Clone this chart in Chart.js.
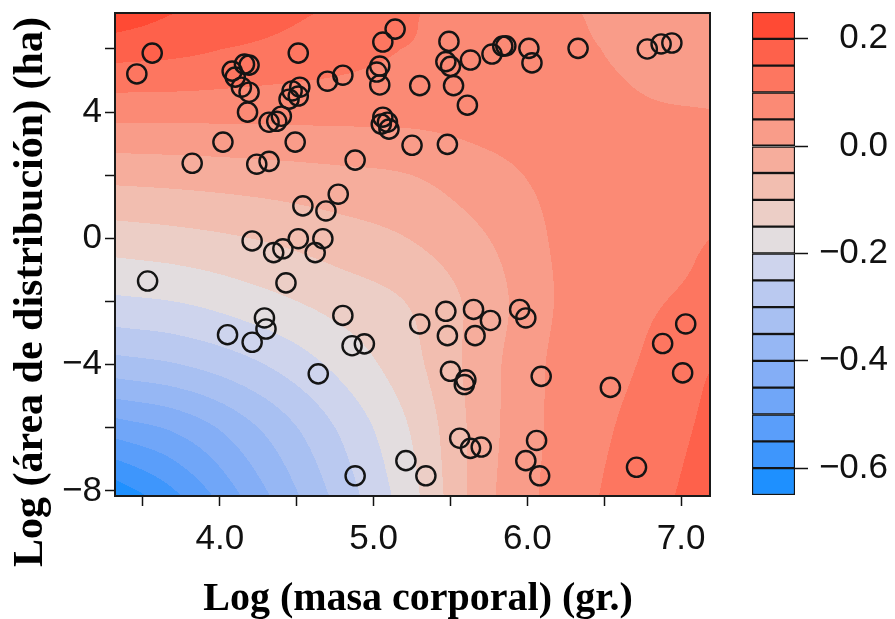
<!DOCTYPE html>
<html>
<head>
<meta charset="utf-8">
<script src="https://cdn.jsdelivr.net/npm/chart.js@4.4.1/dist/chart.umd.min.js"></script>
<style>
  html, body { margin: 0; padding: 0; background: #ffffff; }
  #wrap { position: relative; width: 895px; height: 619px; }
  #main { position: absolute; left: 0; top: 0; }
  #cbar { position: absolute; left: 720px; top: 0; }
</style>
</head>
<body>
<div id="wrap">
  <canvas id="main" width="895" height="619"></canvas>
  <canvas id="cbar" width="175" height="619"></canvas>
</div>
<script>
// ---------- data ----------
// scatter points: Log body mass (x) and Log range area (y)
const massX = [
  3.46, 3.56, 4.08, 4.10, 4.16, 4.19, 4.14, 4.19, 4.18, 4.32,
  4.37, 4.40, 4.02, 3.82, 4.24, 4.32, 4.49, 4.51, 4.47, 4.52,
  4.51, 4.45, 4.70, 4.80, 5.02, 5.04, 5.04, 5.06, 5.14, 5.06,
  5.09, 5.05, 5.10, 4.88, 5.25, 5.48, 5.49, 5.47, 5.50, 5.63,
  5.77, 5.84, 5.86, 6.01, 6.03, 6.33, 6.78, 6.87, 6.94, 5.30,
  5.52, 5.61, 4.77, 4.54, 4.69, 4.21, 4.35, 4.41, 4.51, 4.67,
  4.62, 3.53, 4.43, 4.80, 4.29, 4.30, 4.05, 4.21, 4.86, 4.94,
  4.64, 5.21, 4.88, 5.34, 5.30, 5.47, 5.48, 5.65, 5.76, 5.66,
  5.95, 5.99, 5.50, 5.60, 5.59, 6.09, 6.54, 7.03, 6.88, 7.01,
  5.56, 5.63, 5.70, 6.06, 5.99, 6.08, 6.71
];
const areaY = [
  5.21, 5.87, 5.30, 5.11, 5.52, 5.49, 4.79, 4.63, 4.00, 3.68,
  3.71, 3.87, 3.05, 2.38, 2.35, 2.44, 3.05, 5.87, 4.67, 4.79,
  4.51, 4.41, 4.98, 5.17, 5.27, 5.46, 4.86, 6.22, 6.63, 3.84,
  3.68, 3.62, 3.46, 2.48, 2.95, 2.98, 6.24, 5.60, 5.45, 5.65,
  5.84, 6.09, 6.10, 6.02, 5.56, 6.02, 6.00, 6.16, 6.19, 4.84,
  4.84, 4.22, 1.40, 1.03, 0.87, -0.08, -0.45, -0.33, -0.01, -0.01,
  -0.45, -1.35, -1.41, -2.44, -2.52, -2.87, -3.05, -3.29, -3.40, -3.34,
  -4.29, -7.04, -7.52, -7.52, -2.71, -2.31, -3.08, -2.25, -2.60, -3.08,
  -2.25, -2.52, -4.21, -4.48, -4.63, -4.37, -4.72, -2.71, -3.33, -4.26,
  -6.33, -6.65, -6.61, -6.40, -7.04, -7.52, -7.25
];

// fitted surface values (rows bottom -> top)
const gridX = [3.32, 3.75, 4.25, 4.75, 5.25, 5.75, 6.25, 6.75, 7.19];
const gridY = [-8.16, -6, -4, -2, 0, 2, 4, 6, 7.14];
const surfaceZ = [
  [-0.640, -0.550, -0.420, -0.290, -0.165, -0.010, 0.075, 0.127, 0.175],
  [-0.475, -0.435, -0.350, -0.250, -0.145, -0.015, 0.070, 0.115, 0.162],
  [-0.320, -0.300, -0.255, -0.190, -0.115, -0.015, 0.068, 0.103, 0.148],
  [-0.210, -0.198, -0.168, -0.132, -0.095, -0.022, 0.060, 0.093, 0.110],
  [-0.125, -0.115, -0.098, -0.074, -0.048,  0.000, 0.062, 0.085, 0.100],
  [-0.035, -0.030, -0.022, -0.012,  0.000,  0.035, 0.065, 0.075, 0.080],
  [ 0.067,  0.067,  0.066,  0.066,  0.065,  0.070, 0.070, 0.055, 0.051],
  [ 0.170,  0.160,  0.140,  0.120,  0.097,  0.080, 0.060, 0.040, 0.035],
  [ 0.230,  0.197,  0.170,  0.142,  0.103,  0.085, 0.055, 0.035, 0.030]
];

// contour levels and their colours (bottom -> top)
const levels = [-0.65, -0.60, -0.55, -0.50, -0.45, -0.40, -0.35, -0.30, -0.25, -0.20,
                -0.15, -0.10, -0.05, 0.00, 0.05, 0.10, 0.15, 0.20, 0.25];
const levelColors = [
  'rgb(30,144,255)', 'rgb(62,150,252)', 'rgb(90,158,250)', 'rgb(112,166,248)',
  'rgb(132,174,246)', 'rgb(150,183,244)', 'rgb(168,192,242)', 'rgb(186,201,240)',
  'rgb(206,212,237)', 'rgb(227,221,223)', 'rgb(236,206,198)', 'rgb(242,190,176)',
  'rgb(246,173,156)', 'rgb(249,156,137)', 'rgb(251,138,117)', 'rgb(253,118,96)',
  'rgb(254,97,75)', 'rgb(255,74,52)'
];

const xTickValues = [3.5, 4.0, 4.5, 5.0, 5.5, 6.0, 6.5, 7.0];
const xTickLabels = ['', '4.0', '', '5.0', '', '6.0', '', '7.0'];
const yTickValues = [-8, -6, -4, -2, 0, 2, 4, 6];
const yTickLabels = ['\u22128', '', '\u22124', '', '0', '', '4', ''];
const cbTickValues = [-0.6, -0.4, -0.2, 0.0, 0.2];
const cbTickLabels = ['\u22120.6', '\u22120.4', '\u22120.2', '0.0', '0.2'];

const xTitle = 'Log (masa corporal) (gr.)';
const yTitle = 'Log (\u00e1rea de distribuci\u00f3n) (ha)';

// ---------- surface interpolation (rendering only) ----------
function fracIndex(arr, v) {
  const n = arr.length - 1;
  if (v <= arr[0]) return (v - arr[0]) / (arr[1] - arr[0]);
  for (let i = 0; i < n; i++) {
    if (v <= arr[i + 1]) return i + (v - arr[i]) / (arr[i + 1] - arr[i]);
  }
  return n + (v - arr[n]) / (arr[n] - arr[n - 1]);
}
function nodeVal(j, i) {
  const nr = surfaceZ.length, nc = surfaceZ[0].length;
  if (i < 0) return 2 * nodeVal(j, 0) - nodeVal(j, 1);
  if (i >= nc) return 2 * nodeVal(j, nc - 1) - nodeVal(j, nc - 2);
  if (j < 0) return 2 * nodeVal(0, i) - nodeVal(1, i);
  if (j >= nr) return 2 * nodeVal(nr - 1, i) - nodeVal(nr - 2, i);
  return surfaceZ[j][i];
}
function catmull(p0, p1, p2, p3, t) {
  return 0.5 * (2 * p1 + (-p0 + p2) * t + (2 * p0 - 5 * p1 + 4 * p2 - p3) * t * t +
    (-p0 + 3 * p1 - 3 * p2 + p3) * t * t * t);
}
function surface(x, y) {
  const nr = surfaceZ.length, nc = surfaceZ[0].length;
  const fx = Math.max(0, Math.min(nc - 1, fracIndex(gridX, x)));
  const fy = Math.max(0, Math.min(nr - 1, fracIndex(gridY, y)));
  const i = Math.min(Math.floor(fx), nc - 2), j = Math.min(Math.floor(fy), nr - 2);
  const tx = fx - i, ty = fy - j;
  const r = [];
  for (let dj = -1; dj <= 2; dj++) {
    r.push(catmull(nodeVal(j + dj, i - 1), nodeVal(j + dj, i), nodeVal(j + dj, i + 1), nodeVal(j + dj, i + 2), tx));
  }
  return catmull(r[0], r[1], r[2], r[3], ty);
}
function levelIndex(z) {
  const step = levels[1] - levels[0];
  let k = Math.floor((z - levels[0]) / step + 1e-9);
  return Math.max(0, Math.min(levelColors.length - 1, k));
}

// ---------- plugins ----------
const fieldPlugin = {
  id: 'field',
  beforeDatasetsDraw(chart) {
    const { ctx, chartArea: a, scales } = chart;
    const xs = scales.x, ys = scales.y;
    const top = Math.round(a.top), bottom = Math.round(a.bottom);
    const left = Math.round(a.left), right = Math.round(a.right);
    const yVals = [];
    for (let py = top; py < bottom; py++) yVals.push(ys.getValueForPixel(py + 0.5));
    ctx.save();
    for (let px = left; px < right; px++) {
      const xv = xs.getValueForPixel(px + 0.5);
      let runStart = top, runLev = -1;
      for (let jj = 0; jj < yVals.length; jj++) {
        const lev = levelIndex(surface(xv, yVals[jj]));
        if (lev !== runLev) {
          if (runLev >= 0) {
            ctx.fillStyle = levelColors[runLev];
            ctx.fillRect(px, runStart, 1, top + jj - runStart);
          }
          runLev = lev; runStart = top + jj;
        }
      }
      ctx.fillStyle = levelColors[runLev];
      ctx.fillRect(px, runStart, 1, bottom - runStart);
    }
    ctx.restore();
  },
  afterDatasetsDraw(chart) {
    const { ctx, chartArea: a } = chart;
    ctx.save();
    ctx.strokeStyle = '#1a1a1a';
    ctx.lineWidth = 2;
    ctx.strokeRect(a.left, a.top, a.right - a.left, a.bottom - a.top);
    ctx.restore();
  },
  afterDraw(chart) {
    const { ctx } = chart;
    ctx.save();
    ctx.fillStyle = '#000';
    ctx.textAlign = 'center';
    ctx.textBaseline = 'alphabetic';
    ctx.font = 'bold 40px "Liberation Serif", "Times New Roman", serif';
    ctx.fillText(xTitle, 418, 610);
    ctx.font = 'bold 42px "Liberation Serif", "Times New Roman", serif';
    ctx.translate(42, 292);
    ctx.rotate(-Math.PI / 2);
    ctx.fillText(yTitle, 0, 0);
    ctx.restore();
  }
};

const tickFont = { family: '"Liberation Sans", Arial, sans-serif', size: 35 };

new Chart(document.getElementById('main'), {
  type: 'scatter',
  data: {
    datasets: [{
      data: massX.map((x, i) => ({ x: x, y: areaY[i] })),
      pointRadius: 9.6,
      pointHoverRadius: 9.6,
      pointBorderWidth: 2.4,
      pointBorderColor: '#141414',
      pointBackgroundColor: 'rgba(0,0,0,0)',
      showLine: false
    }]
  },
  options: {
    responsive: false,
    animation: false,
    events: [],
    devicePixelRatio: 1,
    layout: { padding: { left: 0, top: 13, right: 185, bottom: 0 } },
    plugins: { legend: { display: false }, tooltip: { enabled: false } },
    scales: {
      x: {
        type: 'linear', min: 3.318, max: 7.188,
        afterBuildTicks(s) { s.ticks = xTickValues.map(v => ({ value: v })); },
        afterFit(s) { s.height = 123; s.paddingLeft = 0; s.paddingRight = 0; },
        ticks: {
          autoSkip: false, maxRotation: 0, color: '#111', font: tickFont, padding: 12,
          callback(v) { const k = xTickValues.indexOf(v); return k >= 0 ? xTickLabels[k] : ''; }
        },
        grid: { drawOnChartArea: false, drawTicks: true, tickLength: 10, tickWidth: 1.5, tickColor: '#111' },
        border: { display: true, color: '#1a1a1a', width: 2 }
      },
      y: {
        type: 'linear', min: -8.16, max: 7.14,
        afterBuildTicks(s) { s.ticks = yTickValues.map(v => ({ value: v })); },
        afterFit(s) { s.width = 115; s.paddingTop = 0; s.paddingBottom = 0; },
        ticks: {
          autoSkip: false, color: '#111', font: tickFont, padding: 3,
          callback(v) { const k = yTickValues.indexOf(v); return k >= 0 ? yTickLabels[k] : ''; }
        },
        grid: { drawOnChartArea: false, drawTicks: true, tickLength: 10, tickWidth: 1.5, tickColor: '#111' },
        border: { display: true, color: '#1a1a1a', width: 2 }
      }
    }
  },
  plugins: [fieldPlugin]
});

// ---------- colour key ----------
new Chart(document.getElementById('cbar'), {
  type: 'bar',
  data: {
    labels: [''],
    datasets: levelColors.map((c, k) => ({
      data: [[levels[k], levels[k + 1]]],
      backgroundColor: c,
      borderColor: '#141414',
      borderWidth: 1.5,
      borderSkipped: false,
      barPercentage: 1,
      categoryPercentage: 1
    }))
  },
  options: {
    responsive: false,
    animation: false,
    events: [],
    devicePixelRatio: 1,
    layout: { padding: { left: 32, top: 12, right: 7, bottom: 124 } },
    plugins: { legend: { display: false }, tooltip: { enabled: false } },
    scales: {
      x: { stacked: true, display: false },
      y: {
        stacked: false, position: 'right', min: -0.65, max: 0.25,
        afterBuildTicks(s) { s.ticks = cbTickValues.map(v => ({ value: v })); },
        afterFit(s) { s.width = 93; s.paddingTop = 0; s.paddingBottom = 0; },
        ticks: {
          autoSkip: false, color: '#111', font: tickFont, padding: 4, crossAlign: 'far',
          callback(v) {
            let k = -1;
            cbTickValues.forEach((t, i) => { if (Math.abs(t - v) < 1e-6) k = i; });
            return k >= 0 ? cbTickLabels[k] : '';
          }
        },
        grid: { drawOnChartArea: false, drawTicks: true, tickLength: 13, tickWidth: 1.5, tickColor: '#111' },
        border: { display: false }
      }
    }
  }
});
</script>
</body>
</html>
